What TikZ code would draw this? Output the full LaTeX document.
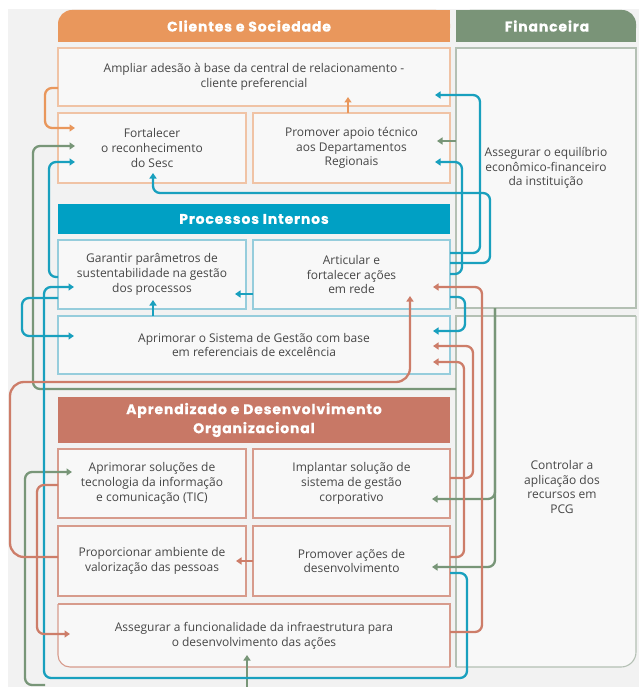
\documentclass[tikz,border=0pt]{standalone}
\usepackage{fontspec}
\setmainfont{Open Sans}
\newfontfamily\headfont{Poppins}[LetterSpace=6,BoldFeatures={FakeBold=0.5}]
\usetikzlibrary{arrows.meta}
\definecolor{bgc}{RGB}{242,242,242}
\definecolor{boxfill}{RGB}{248,248,248}
\definecolor{txtc}{RGB}{70,70,70}
\definecolor{orH}{RGB}{233,151,92}
\definecolor{grH}{RGB}{122,148,120}
\definecolor{cyH}{RGB}{0,160,196}
\definecolor{saH}{RGB}{200,120,102}
\definecolor{orB}{RGB}{240,195,165}
\definecolor{cyB}{RGB}{150,205,220}
\definecolor{saB}{RGB}{215,155,140}
\definecolor{grB}{RGB}{180,192,180}
\definecolor{orC}{RGB}{233,151,92}
\definecolor{grC}{RGB}{120,150,120}
\definecolor{cyC}{RGB}{25,160,190}
\definecolor{saC}{RGB}{205,125,105}
\tikzset{
  bodyfont/.style={font=\fontsize{12}{14.8}\selectfont},
  box/.style={draw, fill=boxfill, line width=1.1pt, inner sep=0pt, outer sep=0pt,
    anchor=north west, align=center, text=txtc, bodyfont},
  obox/.style={box, draw=orB},
  cbox/.style={box, draw=cyB},
  sbox/.style={box, draw=saB},
  fbox/.style={box, draw=grB},
  plainbox/.style={inner sep=0pt, outer sep=0pt, anchor=north west, align=center, text=txtc, bodyfont},
  txt/.style={align=center, text=txtc, bodyfont, inner sep=0pt},
  hdr/.style={text=white, font=\headfont\bfseries\fontsize{14}{19}\selectfont, align=center, inner sep=0pt},
  hdrbar/.style={hdr, anchor=north west, outer sep=0pt},
  conn/.style={line width=2.3pt, rounded corners=7pt, -{Triangle[length=5.5pt,width=7pt]}},
  orc/.style={conn, draw=orC},
  grc/.style={conn, draw=grC},
  cyc/.style={conn, draw=cyC},
  sac/.style={conn, draw=saC}
}
\begin{document}
\begin{tikzpicture}[x=1pt,y=-1pt]
\useasboundingbox (0,0) rectangle (639,687);
\fill[white] (0,0) rectangle (639,687);
\fill[bgc] (8,9) rectangle (639,687);

% headers
\fill[orH, rounded corners=14pt] (58,10) rectangle (450,42);
\fill[orH] (80,10) rectangle (450,42);
\fill[orH] (58,28) rectangle (450,42);
\node[hdr] (hcli) at (249,26) {Clientes e Sociedade};

\fill[grH, rounded corners=14pt] (456,10) rectangle (636,42);
\fill[grH] (456,10) rectangle (614,42);
\fill[grH] (456,28) rectangle (636,42);
\node[hdr] (hfin) at (547,26) {Financeira};

% Clientes e Sociedade
\node[obox, minimum width=392pt, minimum height=58pt] (amp) at (58,48) {Ampliar adesão à base da central de relacionamento -\\cliente preferencial};
\node[obox, minimum width=188pt, minimum height=70pt] (fort) at (58,113) {Fortalecer\\o reconhecimento\\do Sesc};
\node[obox, minimum width=197pt, minimum height=70pt] (proA) at (253,113) {Promover apoio técnico\\aos Departamentos\\Regionais};

% Financeira
\node[fbox, minimum width=180pt, minimum height=260pt] (fin1) at (456,48) {};
\node[txt] (fin1t) at (546,168) {Assegurar o equilíbrio\\econômico-financeiro\\da instituição};
\fill[boxfill, rounded corners=15pt] (456,316) rectangle (636,667);
\fill[boxfill] (456,316) rectangle (636,640);
\fill[boxfill] (456,316) rectangle (610,667);
\node[plainbox, minimum width=180pt, minimum height=351pt] (ctrl) at (456,316) {};
\draw[grB, line width=1.1pt, rounded corners=15pt] (ctrl.north east) -- (ctrl.south east) -- (ctrl.south west);
\draw[grB, line width=1.1pt] (ctrl.south west) -- (ctrl.north west) -- (ctrl.north east);
\node[txt] (ctrlt) at (562,487) {Controlar a\\aplicação dos\\recursos em\\PCG};

% Processos Internos
\node[hdrbar, fill=cyH, minimum width=392pt, minimum height=30pt] (hpro) at (58,204) {Processos Internos};
\node[cbox, minimum width=188pt, minimum height=69pt] (gar) at (58,240) {Garantir parâmetros de\\sustentabilidade na gestão\\dos processos};
\node[cbox, minimum width=197pt, minimum height=69pt] (art) at (253,240) {Articular e\\fortalecer ações\\em rede};
\node[cbox, minimum width=392pt, minimum height=58pt] (apri) at (58,316) {Aprimorar o Sistema de Gestão com base\\em referenciais de excelência};

% Aprendizado e Desenvolvimento Organizacional
\node[hdrbar, fill=saH, minimum width=392pt, minimum height=46pt] (hapr) at (58,397) {Aprendizado e Desenvolvimento\\Organizacional};
\node[sbox, minimum width=188pt, minimum height=69pt] (tic) at (58,449) {Aprimorar soluções de\\tecnologia da informação\\e comunicação (TIC)};
\node[sbox, minimum width=197pt, minimum height=69pt] (impl) at (253,449) {Implantar solução de\\sistema de gestão\\corporativo};
\node[sbox, minimum width=188pt, minimum height=70pt] (prop) at (58,526) {Proporcionar ambiente de\\valorização das pessoas};
\node[sbox, minimum width=197pt, minimum height=70pt] (proD) at (253,526) {Promover ações de\\desenvolvimento};
\fill[boxfill, rounded corners=12pt] (58,604) rectangle (450,667);
\fill[boxfill] (58,604) rectangle (450,650);
\fill[boxfill] (75,604) rectangle (450,667);
\node[plainbox, minimum width=392pt, minimum height=63pt] (assF) at (58,604) {Assegurar a funcionalidade da infraestrutura para\\o desenvolvimento das ações};
\draw[saB, line width=1.1pt, rounded corners=12pt] (assF.north west) -- (assF.south west) -- (assF.south east);
\draw[saB, line width=1.1pt] (assF.south east) -- (assF.north east) -- (assF.north west);

% free ends at the bottom edge
\coordinate (gb1) at (45,685);
\coordinate (gb2) at (247,687);

% orange connectors
\draw[orc] (amp.west |- 0,88) -- (45,88) -- (45,128) -- (75,128);
\draw[orc] (proA.north -| 348,0) -- (348,97);

% green connectors
\draw[grc] (fin1.west |- 0,141) -- (437,141);
\draw[grc] (ctrl.west |- 0,389) -- (33,389) -- (33,146) -- (75,146);
\draw[grc] (fin1.south -| 495,0) -- (495,499) -- (432,499);
\draw[grc] (fin1.south -| 495,0) -- (495,567) -- (432,567);
\draw[grc] (gb1) -- (25,685) -- (25,472) -- (72,472);
\draw[grc] (gb2) -- (247,655);

% cyan connectors
\draw[cyc] (art.east |- 0,253) -- (480,253) -- (480,95) -- (435,95);
\draw[cyc] (art.east |- 0,274) -- (462,274) -- (462,162) -- (435,162);
\draw[cyc] (art.east |- 0,263) -- (490,263) -- (490,193) -- (153,193) -- (153,173);
\draw[cyc] (gar.west |- 0,277) -- (49,277) -- (49,162) -- (75,162);
\draw[cyc] (art.west |- 0,294) -- (235,294);
\draw[cyc] (apri.north -| 153,0) -- (153,300);
\draw[cyc] (proD.east |- 0,573) -- (467,573) -- (467,678) -- (44,678) -- (44,287) -- (74,287);
\draw[cyc] (gar.west |- 0,298) -- (22,298) -- (22,336) -- (74,336);
\draw[cyc] (art.east |- 0,297) -- (465,297) -- (465,331) -- (433,331);

% salmon connectors
\draw[sac, rounded corners=14pt] (prop.west |- 0,557) -- (10,557) -- (10,382) -- (410,382) -- (410,296);
\draw[sac] (tic.west |- 0,485) -- (37,485) -- (37,634) -- (70,634);
\draw[sac] (proD.west |- 0,561) -- (236,561);
\draw[sac] (assF.east |- 0,632) -- (482,632) -- (482,287) -- (433,287);
\draw[sac] (impl.east |- 0,478) -- (473,478) -- (473,346) -- (433,346);
\draw[sac] (proD.east |- 0,557) -- (464,557) -- (464,362) -- (433,362);
\end{tikzpicture}
\end{document}
